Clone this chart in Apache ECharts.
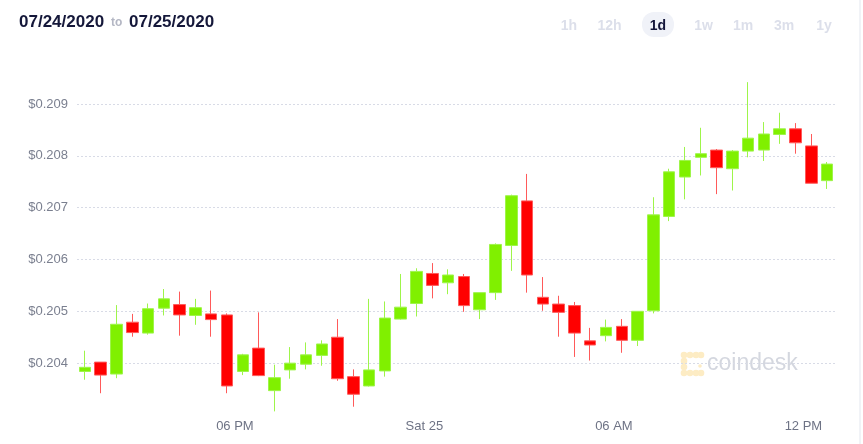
<!DOCTYPE html>
<html>
<head>
<meta charset="utf-8">
<script src="https://cdn.jsdelivr.net/npm/echarts@6/dist/echarts.min.js"></script>
<style>
  html, body { margin: 0; padding: 0; background: #fff; }
  #chart { width: 863px; height: 444px; }
</style>
</head>
<body>
<div id="chart"></div>
<script>
  // 30 min candles, 07/24 13:15 -> 07/25 12:45
  const candleTimes = [
    '13:15', '13:45', '14:15', '14:45', '15:15', '15:45', '16:15', '16:45',
    '17:15', '17:45', '18:15', '18:45', '19:15', '19:45', '20:15', '20:45',
    '21:15', '21:45', '22:15', '22:45', '23:15', '23:45', '00:15', '00:45',
    '01:15', '01:45', '02:15', '02:45', '03:15', '03:45', '04:15', '04:45',
    '05:15', '05:45', '06:15', '06:45', '07:15', '07:45', '08:15', '08:45',
    '09:15', '09:45', '10:15', '10:45', '11:15', '11:45', '12:15', '12:45'
  ];
  const opens = [
    0.20384, 0.20402, 0.20379, 0.20479, 0.20458, 0.20506, 0.20513, 0.20492,
    0.20495, 0.20493, 0.20384, 0.20429, 0.20347, 0.20387, 0.20398, 0.20415,
    0.20450, 0.20374, 0.20356, 0.20385, 0.20485, 0.20515, 0.20573, 0.20555,
    0.20567, 0.20503, 0.20536, 0.20627, 0.20713, 0.20527, 0.20514, 0.20511,
    0.20443, 0.20453, 0.20471, 0.20444, 0.20501, 0.20683, 0.20759, 0.20797,
    0.20811, 0.20775, 0.20809, 0.20811, 0.20841, 0.20852, 0.20819, 0.20752
  ];
  const closes = [
    0.20392, 0.20377, 0.20475, 0.20459, 0.20505, 0.20524, 0.20493, 0.20507,
    0.20484, 0.20356, 0.20416, 0.20376, 0.20372, 0.20400, 0.20416, 0.20437,
    0.20370, 0.20340, 0.20387, 0.20487, 0.20508, 0.20577, 0.20550, 0.20570,
    0.20511, 0.20536, 0.20629, 0.20723, 0.20570, 0.20514, 0.20498, 0.20458,
    0.20435, 0.20469, 0.20444, 0.20500, 0.20686, 0.20769, 0.20791, 0.20804,
    0.20777, 0.20809, 0.20834, 0.20842, 0.20852, 0.20825, 0.20747, 0.20784
  ];
  const lows = [
    0.20368, 0.20342, 0.20371, 0.20451, 0.20455, 0.20492, 0.20453, 0.20474,
    0.20451, 0.20342, 0.20377, 0.20375, 0.20307, 0.20370, 0.20388, 0.20395,
    0.20366, 0.20316, 0.20355, 0.20374, 0.20484, 0.20490, 0.20525, 0.20533,
    0.20499, 0.20485, 0.20522, 0.20578, 0.20536, 0.20501, 0.20451, 0.20412,
    0.20405, 0.20442, 0.20420, 0.20433, 0.20496, 0.20674, 0.20716, 0.20762,
    0.20726, 0.20733, 0.20797, 0.20790, 0.20823, 0.20804, 0.20747, 0.20736
  ];
  const highs = [
    0.20424, 0.20402, 0.20512, 0.20495, 0.20515, 0.20543, 0.20538, 0.20524,
    0.20540, 0.20496, 0.20418, 0.20498, 0.20397, 0.20431, 0.20440, 0.20444,
    0.20485, 0.20388, 0.20524, 0.20519, 0.20572, 0.20583, 0.20593, 0.20581,
    0.20572, 0.20536, 0.20631, 0.20725, 0.20765, 0.20566, 0.20530, 0.20518,
    0.20468, 0.20484, 0.20485, 0.20500, 0.20720, 0.20775, 0.20817, 0.20854,
    0.20813, 0.20811, 0.20942, 0.20865, 0.20883, 0.20863, 0.20842, 0.20788
  ];
  const xTickHours = [18, 24, 30, 36];
  const xTickLabels = ['06 PM', 'Sat 25', '06 AM', '12 PM'];
  const ranges = ['1h', '12h', '1d', '1w', '1m', '3m', '1y'];

  // hours since 07/24 00:00
  let toHours = function (t, i) {
    let p = t.split(':');
    let h = parseInt(p[0]) + parseInt(p[1]) / 60;
    if (i > 0 && h < 13) h += 24;
    return h;
  };
  let candles = candleTimes.map(function (t, i) {
    return [toHours(t, i), opens[i], closes[i], lows[i], highs[i]];
  });

  let GREEN = '#80f000';
  let RED = '#ff0000';

  // range tabs
  let tabX = [569, 609.5, 658, 703.5, 743, 784, 824];
  let tabs = [{
    type: 'rect',
    shape: {x: 642, y: 12, width: 32, height: 25, r: 12},
    style: {fill: '#f0f2f8'}
  }];
  ranges.forEach(function (r, i) {
    tabs.push({
      type: 'text',
      x: tabX[i], y: 26,
      style: {
        text: r, fill: r === '1d' ? '#14163a' : '#dcdfea',
        font: 'bold 14px "Liberation Sans", Arial, sans-serif',
        align: 'center', verticalAlign: 'middle'
      }
    });
  });

  // watermark logo dots
  let logo = [];
  [[684, 355], [690, 355], [696, 355], [701, 355], [684, 361], [684, 367],
   [684, 373], [690, 373], [696, 373], [701, 373], [700, 366]].forEach(function (d, i) {
    logo.push({
      type: 'circle',
      shape: {cx: d[0], cy: d[1], r: i === 10 ? 1.8 : 3.3},
      style: {fill: '#fdecc4'}
    });
  });

  let chart = echarts.init(document.getElementById('chart'));
  chart.setOption({
    animation: false,
    grid: {
      left: 77,
      right: 28,
      top: 78,
      bottom: 29
    },
    xAxis: {
      type: 'value',
      min: 13,
      max: 37,
      axisLine: {show: false},
      axisTick: {show: false},
      splitLine: {show: false},
      axisLabel: {
        customValues: xTickHours,
        formatter: function (v) {
          let i = xTickHours.indexOf(Math.round(v));
          return i >= 0 ? xTickLabels[i] : '';
        },
        color: '#6e7385',
        fontSize: 13,
        fontFamily: '"Liberation Sans", Arial, sans-serif',
        margin: 5
      }
    },
    yAxis: {
      type: 'value',
      min: 0.203,
      max: 0.2095,
      interval: 0.001,
      axisLine: {show: false},
      axisTick: {show: false},
      splitLine: {
        show: true,
        showMinLine: false,
        showMaxLine: false,
        lineStyle: {color: '#d8dbe6', type: [2, 2], width: 1}
      },
      axisLabel: {
        showMinLabel: false,
        showMaxLabel: false,
        formatter: function (v) {
          return '$' + v.toFixed(3);
        },
        color: '#7a7f8f',
        fontSize: 13,
        fontFamily: '"Liberation Sans", Arial, sans-serif',
        margin: 9
      }
    },
    series: [{
      type: 'candlestick',
      data: candles,
      encode: {x: 0, y: [1, 2, 3, 4]},
      barWidth: 12,
      itemStyle: {
        color: GREEN,
        color0: RED,
        borderColor: '#9ef54a',
        borderColor0: '#ff5a5a',
        borderWidth: 1
      }
    }],
    graphic: [
      {type: 'rect', shape: {x: 859, y: 0, width: 2, height: 444}, style: {fill: '#f1f3f7'}},
      {
        type: 'text', x: 19, y: 22,
        style: {text: '07/24/2020', fill: '#15183a', font: 'bold 17px "Liberation Sans", Arial, sans-serif', verticalAlign: 'middle'}
      },
      {
        type: 'text', x: 111, y: 23,
        style: {text: 'to', fill: '#b4b7c4', font: 'bold 12px "Liberation Sans", Arial, sans-serif', verticalAlign: 'middle'}
      },
      {
        type: 'text', x: 129, y: 22,
        style: {text: '07/25/2020', fill: '#15183a', font: 'bold 17px "Liberation Sans", Arial, sans-serif', verticalAlign: 'middle'}
      },
      {
        type: 'text', x: 707, y: 364,
        style: {text: 'coindesk', fill: '#d4d7df', font: '23px "Liberation Sans", Arial, sans-serif', verticalAlign: 'middle'}
      }
    ].concat(tabs).concat(logo)
  });
</script>
</body>
</html>
